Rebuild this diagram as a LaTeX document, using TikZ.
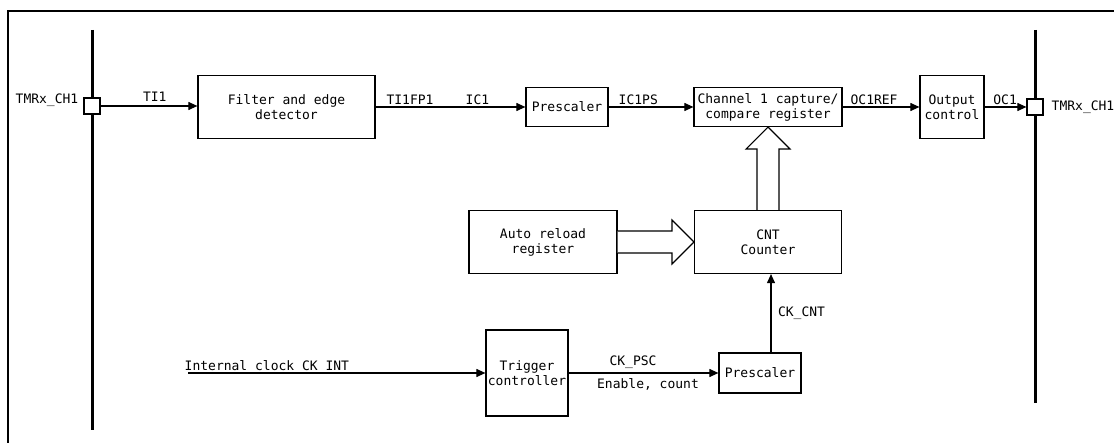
\documentclass[tikz,border=0pt]{standalone}
\usepackage{fontspec}
\setmonofont{DejaVu Sans Mono}
\usetikzlibrary{positioning, arrows.meta, calc}
\tikzset{
  blk/.style={draw, line width=1.2pt, align=center, inner sep=0pt},
  sig/.style={line width=1.1pt, -{Triangle[length=9pt,width=8pt]}},
  bus/.style={line width=3pt},
  pin/.style={draw, line width=1.2pt, minimum size=16pt, inner sep=0pt, fill=white},
  hollow/.style={draw, line width=1.2pt, fill=white, line join=miter},
  lbl/.style={inner sep=1.5pt}
}

\begin{document}
\begin{tikzpicture}[x=1pt, y=-1pt, font=\ttfamily\fontsize{13}{15}\selectfont]
  \useasboundingbox (0,0) rectangle (1114,443);
  % frame, open at right and bottom
  \draw[line width=1.3pt] (8,443) -- (8,11) -- (1114,11);
  % pin buses
  \draw[bus] (92,30) -- (92,430);
  \draw[bus] (1035,30) -- (1035,403);
  % channel 1 path
  \node[pin] (pinL) at (92,106) {};
  \node[anchor=east, lbl] (chL) at (80,100) {TMRx\_CH1};
  \node[blk, minimum width=177pt, minimum height=63pt] (filt) at (286.5,107) {Filter and edge\\detector};
  \node[blk, minimum width=82pt, minimum height=39pt] (presc1) at (567,107) {Prescaler};
  \node[blk, minimum width=148pt, minimum height=39pt] (chan) at (768,107) {Channel 1 capture/\\compare register};
  \node[blk, minimum width=64pt, minimum height=63pt] (outc) at (952,107) {Output\\control};
  \node[pin] (pinR) at (1035,107) {};
  \node[anchor=west, lbl] (chR) at (1050,107) {TMRx\_CH1};
  \draw[sig] (pinL) -- node[pos=0.56, above, inner sep=4pt] {TI1} (pinL -| filt.west);
  \draw[sig] (filt) -- node[pos=0.23, above, lbl] {TI1FP1} node[pos=0.68, above, lbl] {IC1} (presc1);
  \draw[sig] (presc1) -- node[pos=0.35, above, lbl] {IC1PS} (chan);
  \draw[sig] (chan) -- node[pos=0.41, above, lbl] {OC1REF} (outc);
  \draw[sig] (outc) -- node[pos=0.49, above, lbl] {OC1} (pinR);
  % counter part
  \node[blk, minimum width=148pt, minimum height=63pt] (arr) at (543,242) {Auto reload\\register};
  \node[blk, minimum width=147pt, minimum height=63pt] (cnt) at (768,242) {CNT\\Counter};
  \draw[hollow] ($(arr.east)+(0,-11)$) -- ($(cnt.west)+(-22,-11)$) -- ($(cnt.west)+(-22,-22)$)
    -- (cnt.west) -- ($(cnt.west)+(-22,22)$) -- ($(cnt.west)+(-22,11)$) -- ($(arr.east)+(0,11)$);
  \draw[hollow] ($(cnt.north)+(-11,0)$) -- ($(chan.south)+(-11,22)$) -- ($(chan.south)+(-22,22)$)
    -- (chan.south) -- ($(chan.south)+(22,22)$) -- ($(chan.south)+(11,22)$) -- ($(cnt.north)+(11,0)$);
  % clock path
  \coordinate (clkin) at (188,373);
  \node[anchor=south west, lbl] (clklbl) at (183,375) {Internal clock CK\_INT};
  \node[blk, minimum width=82pt, minimum height=86pt] (trig) at (527,373) {Trigger\\controller};
  \node[blk, minimum width=82pt, minimum height=40pt] (presc2) at (760,373) {Prescaler};
  \draw[sig] (clkin) -- (trig);
  \draw[sig] (trig) -- node[pos=0.43, above, inner sep=4pt] {CK\_PSC} node[pos=0.53, below, inner sep=5pt] {Enable, count} (presc2);
  \draw[sig] (presc2.north -| cnt.south) ++(3,0) -- node[right=5pt, lbl] {CK\_CNT} ($(cnt.south)+(3,0)$);
\end{tikzpicture}
\end{document}
